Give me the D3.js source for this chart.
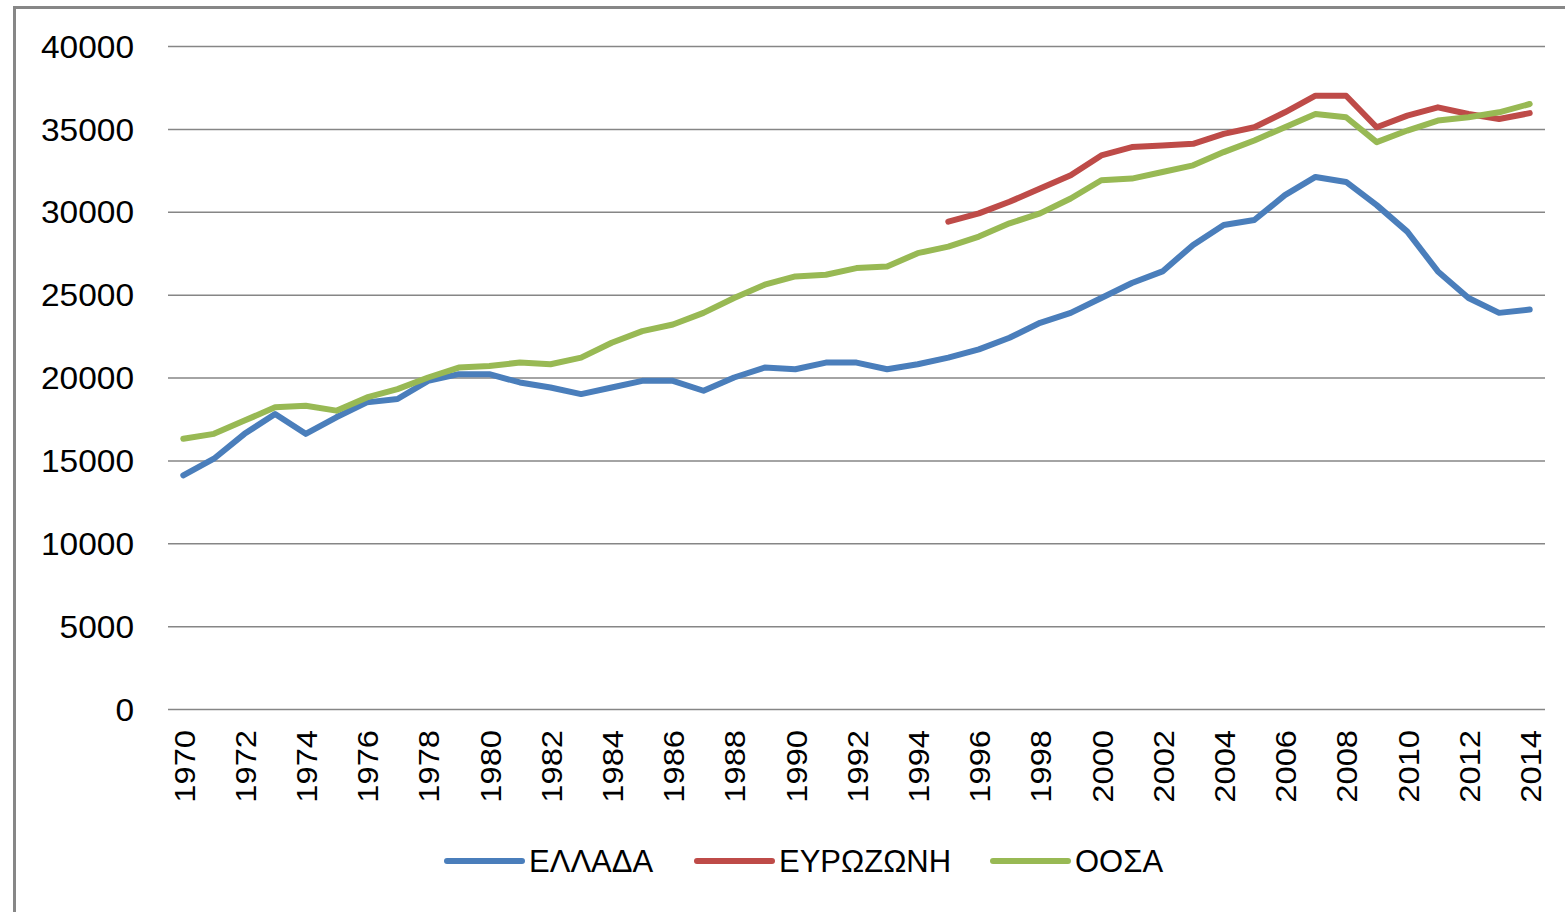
<!DOCTYPE html>
<html lang="el">
<head>
<meta charset="UTF-8">
<title>ΕΛΛΑΔΑ - ΕΥΡΩΖΩΝΗ - ΟΟΣΑ</title>
<style>
  body { margin: 0; background: #fff; }
  svg text { font-family: "Liberation Sans", Arial, sans-serif; fill: #000; }
</style>
</head>
<body>
<svg id="chart" width="1565" height="912"></svg>
<script src="https://cdn.jsdelivr.net/npm/d3@7"></script>
<script>
const years = [1970, 1971, 1972, 1973, 1974, 1975, 1976, 1977, 1978, 1979,
  1980, 1981, 1982, 1983, 1984, 1985, 1986, 1987, 1988, 1989,
  1990, 1991, 1992, 1993, 1994, 1995, 1996, 1997, 1998, 1999,
  2000, 2001, 2002, 2003, 2004, 2005, 2006, 2007, 2008, 2009,
  2010, 2011, 2012, 2013, 2014];

const greece = [14100, 15100, 16600, 17800, 16600, 17600, 18500, 18700, 19800, 20200,
  20200, 19700, 19400, 19000, 19400, 19800, 19800, 19200, 20000, 20600,
  20500, 20900, 20900, 20500, 20800, 21200, 21700, 22400, 23300, 23900,
  24800, 25700, 26400, 28000, 29200, 29500, 31000, 32100, 31800, 30400,
  28800, 26400, 24800, 23900, 24100];

const eurozone = [null, null, null, null, null, null, null, null, null, null,
  null, null, null, null, null, null, null, null, null, null,
  null, null, null, null, null, 29400, 29900, 30600, 31400, 32200,
  33400, 33900, 34000, 34100, 34700, 35100, 36000, 37000, 37000, 35100,
  35800, 36300, 35900, 35600, 35950];

const oecd = [16300, 16600, 17400, 18200, 18300, 18000, 18800, 19300, 20000, 20600,
  20700, 20900, 20800, 21200, 22100, 22800, 23200, 23900, 24800, 25600,
  26100, 26200, 26600, 26700, 27500, 27900, 28500, 29300, 29900, 30800,
  31900, 32000, 32400, 32800, 33600, 34300, 35100, 35900, 35700, 34200,
  34900, 35500, 35700, 36000, 36500];

const seriesNames = ['ΕΛΛΑΔΑ', 'ΕΥΡΩΖΩΝΗ', 'ΟΟΣΑ'];
const seriesColors = ['#4a7ebb', '#be4b48', '#98b954'];
const yTicks = [0, 5000, 10000, 15000, 20000, 25000, 30000, 35000, 40000];
const xTickYears = years.filter(y => y % 2 === 0);

const svg = d3.select('#chart');

// frame
svg.append('rect')
  .attr('x', 14.5).attr('y', 7.5)
  .attr('width', 1600).attr('height', 1000)
  .attr('fill', 'none')
  .attr('stroke', '#878787')
  .attr('stroke-width', 3);

const x = d3.scalePoint().domain(years).range([168, 1545]).padding(0.5);
const y = d3.scaleLinear().domain([0, 40000]).range([709, 46]);

// gridlines + y labels
const yAxis = d3.axisLeft(y).tickValues(yTicks).tickFormat(d3.format('d'))
  .tickSize(-(1545 - 168)).tickPadding(0);
const gy = svg.append('g').attr('transform', 'translate(168,0)').call(yAxis);
gy.select('.domain').remove();
gy.selectAll('.tick line').attr('stroke', '#868686').attr('stroke-width', 1.5);
gy.selectAll('.tick text')
  .style('font-size', '31px')
  .attr('fill', '#000')
  .attr('text-anchor', 'end')
  .attr('transform', 'scale(1.08,1)')
  .attr('x', -34 / 1.08)
  .attr('dy', '0.36em');

// x labels, rotated
const xAxis = d3.axisBottom(x).tickValues(xTickYears).tickSize(0).tickPadding(0);
const gx = svg.append('g').attr('transform', 'translate(0,709)').call(xAxis);
gx.select('.domain').remove();
gx.selectAll('.tick text')
  .style('font-size', '30px')
  .attr('fill', '#000')
  .attr('text-anchor', 'end')
  .attr('transform', 'rotate(-90) scale(1.09,1)')
  .attr('x', -21 / 1.09)
  .attr('y', 0)
  .attr('dy', '0.36em');

// lines
const line = d3.line()
  .defined(d => d.v != null)
  .x(d => x(d.year))
  .y(d => y(d.v));

[greece, eurozone, oecd].forEach((vals, i) => {
  const pts = years.map((yr, j) => ({ year: yr, v: vals[j] }));
  svg.append('path')
    .datum(pts)
    .attr('d', line)
    .attr('fill', 'none')
    .attr('stroke', seriesColors[i])
    .attr('stroke-width', 6)
    .attr('stroke-linejoin', 'round')
    .attr('stroke-linecap', 'round');
});

// legend
const legendX = [447, 697, 993];
const legend = svg.append('g');
seriesNames.forEach((name, i) => {
  legend.append('line')
    .attr('x1', legendX[i]).attr('x2', legendX[i] + 75)
    .attr('y1', 861).attr('y2', 861)
    .attr('stroke', seriesColors[i])
    .attr('stroke-width', 6)
    .attr('stroke-linecap', 'round');
  legend.append('text')
    .attr('x', legendX[i] + 82)
    .attr('y', 861)
    .attr('dy', '0.36em')
    .style('font-size', '31px')
    .text(name);
});
</script>
</body>
</html>
